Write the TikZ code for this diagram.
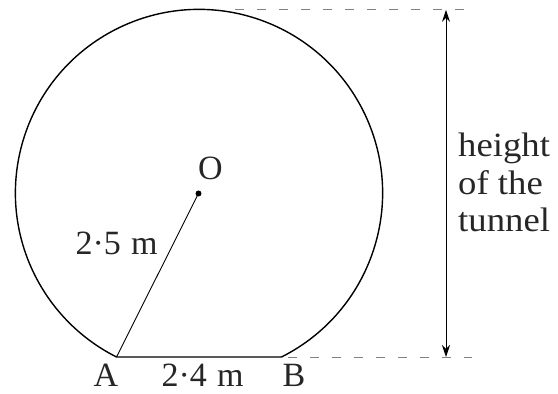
\documentclass[tikz,border=0pt]{standalone}
\usepackage{fontspec}
\setmainfont{Liberation Serif}
\usetikzlibrary{arrows.meta}
\begin{document}
\begin{tikzpicture}[x=1pt,y=1pt,
  outline/.style={line width=1.4pt, black},
  thin/.style={line width=0.9pt, black},
  guide/.style={line width=0.9pt, gray, dash pattern=on 9pt off 13pt},
  lbl/.style={font=\fontsize{34}{38}\selectfont, inner sep=0pt, text=black!85}]
\useasboundingbox (0,0) rectangle (558,394);
\coordinate (O) at (198.5,200.5);
\coordinate (A) at (116.5,37);
\coordinate (B) at (281.5,37);
\coordinate (tl) at (235,384.1);
\coordinate (tr) at (472,384.1);
\coordinate (bl) at (288,37);
\coordinate (br) at (472,37);
\coordinate (at) at (446,384.1);
\coordinate (ab) at (446,37);
\draw[outline] (A) -- (B) arc[start angle=-63.3, end angle=243.3, radius=183.6] -- cycle;
\draw[thin] (O) -- (A);
\fill (O) circle (3);
\draw[guide] (tl) -- (tr);
\draw[guide] (bl) -- (br);
\draw[thin, {Stealth[length=12pt,width=8pt]}-{Stealth[length=12pt,width=8pt]}] (at) -- (ab);
\node[lbl] (lO) at (210.5,225.5) {O};
\node[lbl, anchor=base] (lr) at (116.5,139) {2·5\hspace{0.3em}m};
\node[lbl, anchor=base] (lA) at (106,7) {A};
\node[lbl, anchor=base] (lc) at (202.5,7) {2·4\hspace{0.3em}m};
\node[lbl, anchor=base] (lB) at (294,7) {B};
\node[lbl, anchor=base west, xscale=1.08] (h1) at (458,237) {height};
\node[lbl, anchor=base west, xscale=1.08] (h2) at (458,199.5) {of the};
\node[lbl, anchor=base west, xscale=1.08] (h3) at (458,162) {tunnel};
\end{tikzpicture}
\end{document}
